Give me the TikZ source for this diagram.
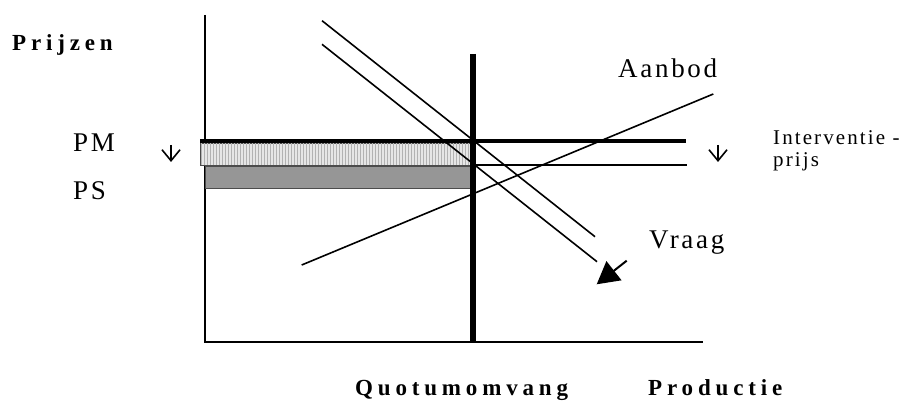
\documentclass[tikz,border=0pt]{standalone}
\usepackage{fontspec}
\setmainfont{Liberation Serif}
\newfontfamily\spacedfont[LetterSpace=10]{Liberation Serif}
\newfontfamily\widefont[LetterSpace=21]{Liberation Serif}
\usetikzlibrary{arrows.meta,patterns}
\definecolor{psgray}{HTML}{969696}
\definecolor{pmgray}{HTML}{E6E6E6}
\tikzset{
  axis/.style={draw=black, line width=2pt},
  curve/.style={draw=black, line width=1.6pt},
  quota/.style={draw=black, line width=6pt},
  pricebar/.style={draw=black, line width=3.5pt},
  pricethin/.style={draw=black, line width=1.6pt},
  lbl/.style={font=\spacedfont\fontsize{27}{30}\selectfont, anchor=base west, inner sep=0pt},
  smalllbl/.style={font=\spacedfont\fontsize{21}{18}\selectfont, anchor=base west, inner sep=0pt},
  titlelbl/.style={font=\widefont\bfseries\fontsize{23}{26}\selectfont, anchor=base west, inner sep=0pt},
  droparrow/.style={-{Straight Barb[length=11pt,width=18pt]}, line width=1.6pt},
  demandarrow/.style={-{Triangle[length=22pt,width=24pt]}, line width=2pt}
}
\begin{document}
\begin{tikzpicture}[x=1pt, y=-1pt]
  \useasboundingbox (0,0) rectangle (903,401);

  % axes
  \coordinate (ytop) at (205,15);
  \coordinate (origin) at (205,342);
  \coordinate (xend) at (703,342);
  \draw[axis] (ytop) -- (origin) -- (xend);

  % producer/consumer price bands
  \filldraw[fill=pmgray, draw=black!70, line width=0.8pt] (200,143) rectangle (473,165);
  \fill[pattern=vertical lines, pattern color=black!30] (201,143.5) rectangle (472,164.5);
  \filldraw[fill=psgray, draw=black!70, line width=0.8pt] (205,166) rectangle (470,188);

  % price levels
  \coordinate (pmleft) at (200,141);
  \coordinate (pmright) at (686,141);
  \coordinate (ivleft) at (473,165.3);
  \coordinate (ivright) at (687,165.3);
  \draw[pricebar] (pmleft) -- (pmright);
  \draw[pricethin] (ivleft) -- (ivright);

  % supply and demand
  \coordinate (s1) at (301.7,265);
  \coordinate (s2) at (713.3,94);
  \draw[curve] (s1) -- (s2);
  \coordinate (d1a) at (322,20.7);
  \coordinate (d1b) at (595,236.7);
  \coordinate (d2a) at (322,44.3);
  \coordinate (d2b) at (597,261.7);
  \draw[curve] (d1a) -- (d1b);
  \draw[curve] (d2a) -- (d2b);
  \coordinate (vstart) at (626.7,260.7);
  \coordinate (vtip) at (596.7,284.3);
  \draw[demandarrow] (vstart) -- (vtip);

  % quota
  \coordinate (qtop) at (473,54);
  \coordinate (qbot) at (473,343);
  \draw[quota] (qtop) -- (qbot);

  % price drops
  \coordinate (dropLa) at (171,145);
  \coordinate (dropLb) at (171,162);
  \coordinate (dropRa) at (718,145);
  \coordinate (dropRb) at (718,162);
  \draw[droparrow] (dropLa) -- (dropLb);
  \draw[droparrow] (dropRa) -- (dropRb);

  % labels
  \node[titlelbl] (prijzen) at (12,51) {Prijzen};
  \node[lbl] (pm) at (73,152) {PM};
  \node[lbl] (ps) at (73,200) {PS};
  \node[lbl] (aanbod) at (618,78) {Aanbod};
  \node[lbl] (vraag) at (649,248) {Vraag};
  \node[smalllbl] (interv) at (773,145) {Interventie -};
  \node[smalllbl] (prijs) at (773,167) {prijs};
  \node[titlelbl] (quotum) at (355,395) {Quotumomvang};
  \node[titlelbl] (productie) at (648,395) {Productie};
\end{tikzpicture}
\end{document}
